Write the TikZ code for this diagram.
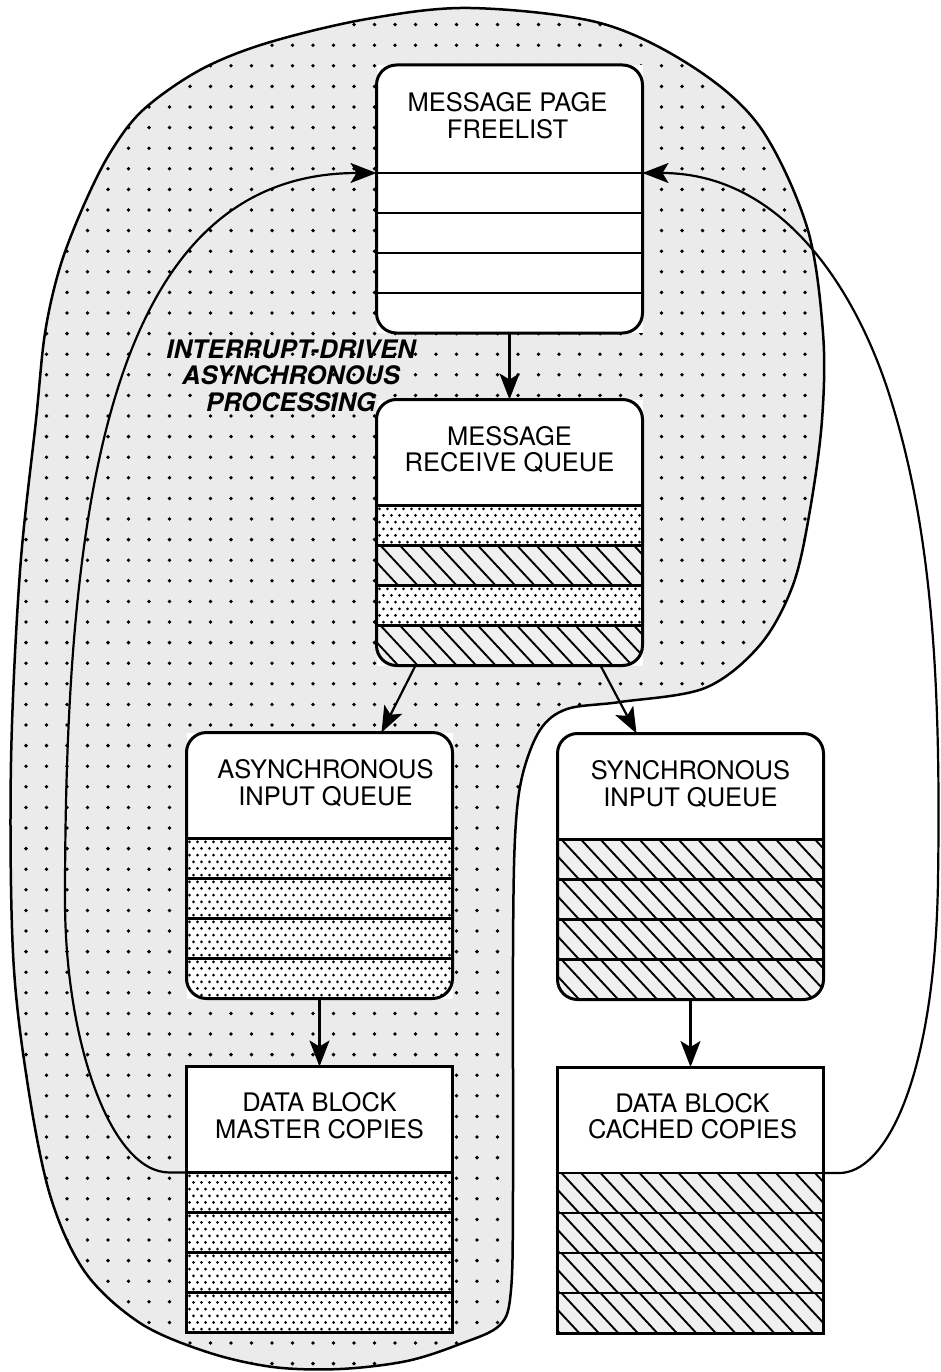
\documentclass[tikz,border=0pt]{standalone}
\usepackage{fontspec}
\setmainfont{TeX Gyre Heros}
\usetikzlibrary{arrows.meta,calc}

% outline of the interrupt-driven region
\newcommand\regionpath{plot[smooth cycle,tension=0.55] coordinates {
  (470,8) (600,23) (693,67) (760,127) (807,227) (823,333) (822,420)
  (810,510) (793,585) (760,645) (705,688) (620,702) (567,709) (540,730)
  (522,777) (515,838) (513,955) (513,1190) (511,1290) (500,1325) (460,1344)
  (407,1361) (340,1369) (273,1367) (207,1352) (140,1323) (85,1272)
  (50,1195) (27,1080) (13,953) (11,762) (20,571) (36,420) (45,333)
  (60,267) (83,207) (110,153) (143,110) (200,70) (267,43) (367,19)}}

% rows of a queue box: d = dotted, h = hatched, n = empty
\newcommand\qrows[4]{%
  \begin{scope}
    \clip[rounded corners=#4] (#1.south west) rectangle (#1.north east);
    \begin{scope}[shift={(#1.north west)}]
      \foreach \kind [count=\rowno from 0] in {#3} {
        \pgfmathsetmacro\rowtop{#2+40*\rowno}
        \begin{scope}
          \clip (0,\rowtop) rectangle (266,\rowtop+40);
          \if\kind d
            \foreach \da in {0,...,5}
              \foreach \db in {0,...,33}
                \fill ({3+8*\db+4*mod(\da,2)}, {\rowtop+3.3+6.67*\da}) circle (1.5);
          \fi
          \if\kind h
            \fill[black!6] (0,\rowtop) rectangle (266,\rowtop+40);
            \foreach \hb in {-3,...,14}
              \draw[hatchline] ({4+19.5*\hb}, \rowtop) -- ++(40,43);
          \fi
        \end{scope}
      }
    \end{scope}
  \end{scope}
  \foreach \k in {0,40,80,120}
    \draw[rowline] ($(#1.north west)+(0,#2+\k)$) -- ($(#1.north east)+(0,#2+\k)$);
  \draw[boxline, rounded corners=#4] (#1.south west) rectangle (#1.north east);
}

\tikzset{
  qnode/.style={fill=white, inner sep=0pt, outer sep=0pt,
    minimum width=266pt, minimum height=266pt},
  boxline/.style={line width=3pt},
  rowline/.style={line width=2.5pt},
  hatchline/.style={line width=1.9pt},
  tip/.style={-{Stealth[length=26pt,width=20pt,inset=6pt]}},
  flow/.style={line width=2.2pt, tip},
  loopline/.style={line width=2.2pt, tip},
  title/.style={font=\fontsize{25.5}{26.5}\selectfont, align=center, inner sep=0pt},
  tag/.style={font=\bfseries\itshape\fontsize{25.5}{26.5}\selectfont, align=center, inner sep=0pt},
}

\begin{document}
\begin{tikzpicture}[x=1pt,y=-1pt]
\path[use as bounding box] (0,0) rectangle (940,1372);

% shaded region with its dot grid
\fill[black!8] \regionpath;
\begin{scope}
  \clip \regionpath;
  \foreach \i in {0,...,45}
    \foreach \j in {0,...,66}
      \fill ({5.5+20.5*\i}, {4+20.6*\j}) circle (1.9);
\end{scope}
\draw[line width=2.5pt] \regionpath;

% boxes
\node[qnode, minimum height=268pt] (free) at (509.5,199) {};
\node[qnode] (recv)   at (509.5,532.5) {};
\node[qnode] (async)  at (319.5,865.5) {};
\node[qnode] (sync)   at (690.5,866.5) {};
\node[qnode] (master) at (319.5,1199.5) {};
\node[qnode] (cached) at (690.5,1200) {};

\qrows{free}{108}{n,n,n,n}{20pt}
\qrows{recv}{106}{d,h,d,h}{20pt}
\qrows{async}{106}{d,d,d,d}{20pt}
\qrows{sync}{106}{h,h,h,h}{20pt}
\qrows{master}{106}{d,d,d,d}{0pt}
\qrows{cached}{106}{h,h,h,h}{0pt}

% box titles
\node[title] (free-t)   at ($(free.north)+(-2,50.5)$)  {MESSAGE PAGE\\FREELIST};
\node[title] (recv-t)   at ($(recv.north)+(0,50)$)     {MESSAGE\\RECEIVE QUEUE};
\node[title] (async-t)  at ($(async.north)+(6,50.5)$)  {ASYNCHRONOUS\\INPUT QUEUE};
\node[title] (sync-t)   at ($(sync.north)+(0,50.5)$)   {SYNCHRONOUS\\INPUT QUEUE};
\node[title] (master-t) at ($(master.north)+(0,49)$)   {DATA BLOCK\\MASTER COPIES};
\node[title] (cached-t) at ($(cached.north)+(2,49)$)   {DATA BLOCK\\CACHED COPIES};

\node[tag] (mode) at (291,375.5) {INTERRUPT-DRIVEN\\ASYNCHRONOUS\\PROCESSING};

% queue flow
\draw[flow] (free.south) -- (recv.north);
\draw[flow] ($(recv.south)+(-94,0)$) -- ($(async.north)+(62,0)$);
\draw[flow] ($(recv.south)+(91,0)$) -- ($(sync.north)+(-54,0)$);
\draw[flow] (async.south) -- (master.north);
\draw[flow] (sync.south) -- (cached.north);

% pages returned to the freelist
\coordinate (mA) at ($(master.north west)+(0,106)$);
\coordinate (fA) at ($(free.north west)+(0,108)$);
\coordinate (cA) at ($(cached.north east)+(0,106)$);
\coordinate (fB) at ($(free.north east)+(0,108)$);
\draw[loopline] (mA) -- ++(-17,0)
  .. controls (110,1172.5) and (65,1040) .. (65,900)
  .. controls (65,500) and (110,173) .. (fA);
\draw[loopline] (cA) -- ++(15,0)
  .. controls (885,1174) and (935,1080) .. (938,880)
  .. controls (941,680) and (932,530) .. (890,397)
  .. controls (861,304) and (790,173) .. (fB);
\end{tikzpicture}
\end{document}
